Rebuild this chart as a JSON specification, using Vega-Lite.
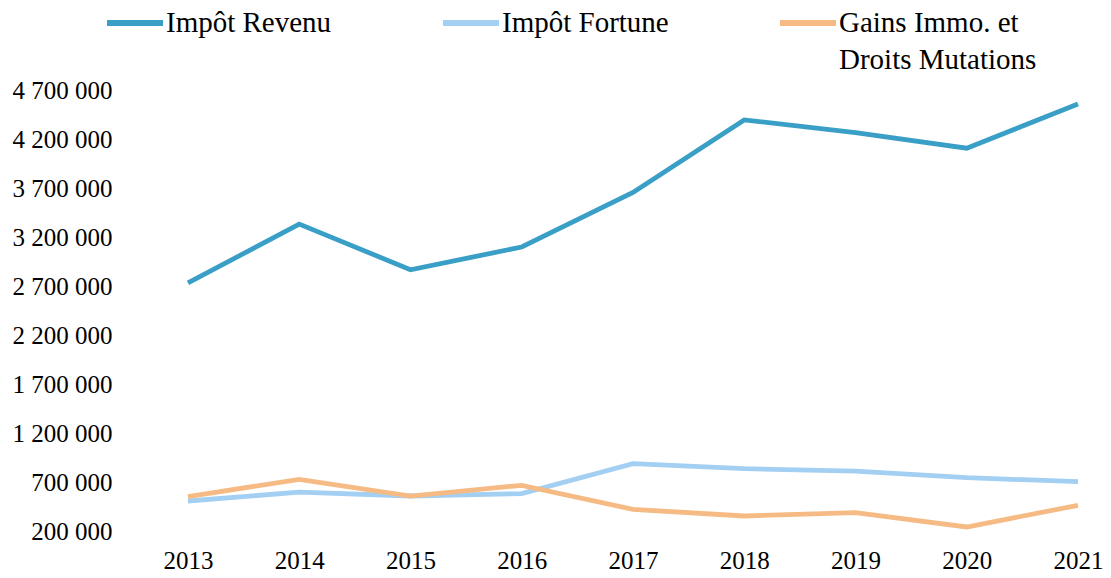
{
  "$schema": "https://vega.github.io/schema/vega-lite/v6.json",
  "width": 980,
  "height": 441,
  "autosize": {"type": "none"},
  "padding": {"left": 120, "top": 90, "right": 11, "bottom": 47},
  "background": "white",
  "config": {
    "locale": {"number": {"decimal": ",", "thousands": " ", "grouping": [3], "currency": ["", " €"]}},
    "view": {"stroke": null},
    "font": "Liberation Serif",
    "style": {"guide-label": {"lineHeight": 37}}
  },
  "data": {
    "values": [
      {"year": 2013, "series": "Impôt Revenu", "value": 2731000},
      {"year": 2014, "series": "Impôt Revenu", "value": 3332000},
      {"year": 2015, "series": "Impôt Revenu", "value": 2866000},
      {"year": 2016, "series": "Impôt Revenu", "value": 3098000},
      {"year": 2017, "series": "Impôt Revenu", "value": 3655000},
      {"year": 2018, "series": "Impôt Revenu", "value": 4395000},
      {"year": 2019, "series": "Impôt Revenu", "value": 4265000},
      {"year": 2020, "series": "Impôt Revenu", "value": 4106000},
      {"year": 2021, "series": "Impôt Revenu", "value": 4557000},
      {"year": 2013, "series": "Impôt Fortune", "value": 506000},
      {"year": 2014, "series": "Impôt Fortune", "value": 597000},
      {"year": 2015, "series": "Impôt Fortune", "value": 557000},
      {"year": 2016, "series": "Impôt Fortune", "value": 581000},
      {"year": 2017, "series": "Impôt Fortune", "value": 887000},
      {"year": 2018, "series": "Impôt Fortune", "value": 836000},
      {"year": 2019, "series": "Impôt Fortune", "value": 811000},
      {"year": 2020, "series": "Impôt Fortune", "value": 744000},
      {"year": 2021, "series": "Impôt Fortune", "value": 703000},
      {"year": 2013, "series": "Gains Immo. et Droits Mutations", "value": 552000},
      {"year": 2014, "series": "Gains Immo. et Droits Mutations", "value": 727000},
      {"year": 2015, "series": "Gains Immo. et Droits Mutations", "value": 557000},
      {"year": 2016, "series": "Gains Immo. et Droits Mutations", "value": 666000},
      {"year": 2017, "series": "Gains Immo. et Droits Mutations", "value": 421000},
      {"year": 2018, "series": "Gains Immo. et Droits Mutations", "value": 353000},
      {"year": 2019, "series": "Gains Immo. et Droits Mutations", "value": 387000},
      {"year": 2020, "series": "Gains Immo. et Droits Mutations", "value": 241000},
      {"year": 2021, "series": "Gains Immo. et Droits Mutations", "value": 462000}
    ]
  },
  "mark": {"type": "line", "strokeWidth": 4.8, "strokeCap": "butt", "strokeJoin": "miter"},
  "encoding": {
    "x": {
      "field": "year",
      "type": "quantitative",
      "scale": {"domain": [2012.389, 2021.198], "nice": false, "zero": false},
      "axis": {
        "values": [2013, 2014, 2015, 2016, 2017, 2018, 2019, 2020, 2021],
        "format": "d",
        "title": null,
        "grid": false,
        "domain": false,
        "ticks": false,
        "labelFontSize": 25,
        "labelFont": "Liberation Serif",
        "labelColor": "#000000",
        "labelPadding": 17
      }
    },
    "y": {
      "field": "value",
      "type": "quantitative",
      "scale": {"domain": [200000, 4700000], "nice": false, "zero": false},
      "axis": {
        "values": [200000, 700000, 1200000, 1700000, 2200000, 2700000, 3200000, 3700000, 4200000, 4700000],
        "format": ",d",
        "title": null,
        "grid": false,
        "domain": false,
        "ticks": false,
        "labelFontSize": 25,
        "labelFont": "Liberation Serif",
        "labelColor": "#000000",
        "labelPadding": 8
      }
    },
    "color": {
      "field": "series",
      "type": "nominal",
      "scale": {
        "domain": ["Impôt Revenu", "Impôt Fortune", "Gains Immo. et Droits Mutations"],
        "range": ["#3a9fc6", "#a3cff3", "#f6bb84"]
      },
      "legend": {
        "orient": "none",
        "legendX": -16,
        "legendY": -98,
        "direction": "horizontal",
        "title": null,
        "symbolType": "stroke",
        "symbolSize": 3136,
        "symbolStrokeWidth": 6,
        "labelFontSize": 29,
        "labelFont": "Liberation Serif",
        "labelColor": "#000000",
        "labelLimit": 400,
        "labelOffset": 0,
        "columnPadding": 99,
        "labelExpr": "datum.label == 'Gains Immo. et Droits Mutations' ? ['Gains Immo. et', 'Droits Mutations'] : [datum.label, '']",
        "encoding": {
          "labels": {"update": {"lineHeight": {"value": 37}}},
          "symbols": {"update": {"strokeCap": {"value": "round"}}}
        }
      }
    }
  }
}
